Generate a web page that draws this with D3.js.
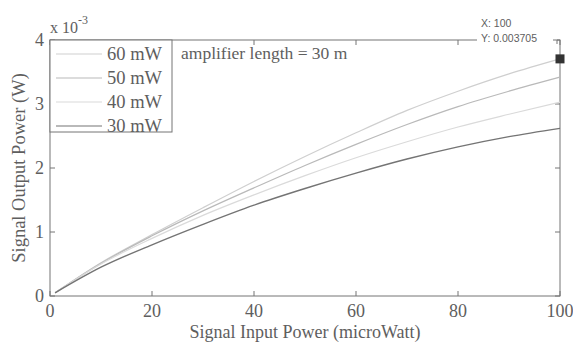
<!DOCTYPE html>
<html>
<head>
<meta charset="utf-8">
<script src="https://cdn.jsdelivr.net/npm/d3@7"></script>
<style>
  body { margin: 0; background: #fff; }
  svg { display: block; }
  text { font-family: "Liberation Serif", "DejaVu Serif", serif; fill: #5e5e5e; }
</style>
</head>
<body>
<svg id="chart" width="573" height="343"></svg>
<script>
// input power (microWatt)
var inputPower = [1, 10, 20, 30, 40, 50, 60, 70, 80, 90, 100]

// output power (W) for each pump power
var out60 = [0.05e-3, 0.52e-3, 0.96e-3, 1.38e-3, 1.79e-3, 2.18e-3, 2.55e-3, 2.90e-3, 3.20e-3, 3.47e-3, 3.705e-3]
var out50 = [0.05e-3, 0.51e-3, 0.94e-3, 1.33e-3, 1.69e-3, 2.04e-3, 2.37e-3, 2.68e-3, 2.96e-3, 3.20e-3, 3.42e-3]
var out40 = [0.05e-3, 0.50e-3, 0.90e-3, 1.26e-3, 1.58e-3, 1.88e-3, 2.16e-3, 2.41e-3, 2.64e-3, 2.84e-3, 3.03e-3]
var out30 = [0.05e-3, 0.45e-3, 0.80e-3, 1.12e-3, 1.42e-3, 1.68e-3, 1.92e-3, 2.14e-3, 2.33e-3, 2.49e-3, 2.62e-3]

var seriesNames = ['60 mW', '50 mW', '40 mW', '30 mW']
var seriesValues = [out60, out50, out40, out30]
var seriesColors = ['#cfcfcf', '#b9b9b9', '#dadada', '#747474']

var xTicks = [0, 20, 40, 60, 80, 100]
var yTicks = [0, 0.001, 0.002, 0.003, 0.004]

var tipX = 100, tipY = 0.003705

var svg = d3.select('#chart')
var margin = {left: 50, right: 13, top: 40, bottom: 47}
var width = 573 - margin.left - margin.right,
    height = 343 - margin.top - margin.bottom

var x = d3.scaleLinear().domain([0, 100]).range([margin.left, margin.left + width])
var y = d3.scaleLinear().domain([0, 0.004]).range([margin.top + height, margin.top])

var axisColor = '#747474'
var tickLen = 5

// box
svg.append('rect')
  .attr('x', x(0)).attr('y', y(0.004))
  .attr('width', width).attr('height', height)
  .attr('fill', 'none').attr('stroke', axisColor).attr('stroke-width', 1)

// inward ticks on all four sides
var g = svg.append('g').attr('stroke', axisColor).attr('stroke-width', 1)
xTicks.forEach(function (t) {
  g.append('line').attr('x1', x(t)).attr('x2', x(t)).attr('y1', y(0)).attr('y2', y(0) - tickLen)
  g.append('line').attr('x1', x(t)).attr('x2', x(t)).attr('y1', y(0.004)).attr('y2', y(0.004) + tickLen)
})
yTicks.forEach(function (t) {
  g.append('line').attr('x1', x(0)).attr('x2', x(0) + tickLen).attr('y1', y(t)).attr('y2', y(t))
  g.append('line').attr('x1', x(100)).attr('x2', x(100) - tickLen).attr('y1', y(t)).attr('y2', y(t))
})

// tick labels
svg.append('g').selectAll('text').data(xTicks).enter().append('text')
  .attr('x', function (d) { return x(d) }).attr('y', y(0) + 21)
  .attr('text-anchor', 'middle').attr('font-size', 18)
  .text(function (d) { return d })

svg.append('g').selectAll('text').data(yTicks).enter().append('text')
  .attr('x', x(0) - 6).attr('y', function (d) { return y(d) + 6 })
  .attr('text-anchor', 'end').attr('font-size', 18)
  .text(function (d) { return Math.round(d * 1000) })

// exponent
var ex = svg.append('text').attr('x', x(0)).attr('y', y(0.004) - 7).attr('font-size', 16)
ex.append('tspan').text('x 10')
ex.append('tspan').attr('dy', -9).attr('font-size', 12).text('-3')

// axis labels
svg.append('text')
  .attr('x', x(50)).attr('y', 338)
  .attr('text-anchor', 'middle').attr('font-size', 18)
  .text('Signal Input Power (microWatt)')

svg.append('text')
  .attr('transform', 'translate(25,' + y(0.002) + ') rotate(-90)')
  .attr('text-anchor', 'middle').attr('font-size', 18.5)
  .text('Signal Output Power (W)')

// curves
var line = d3.line()
  .x(function (d) { return x(d[0]) })
  .y(function (d) { return y(d[1]) })
  .curve(d3.curveMonotoneX)

seriesValues.forEach(function (vals, i) {
  svg.append('path')
    .datum(inputPower.map(function (p, j) { return [p, vals[j]] }))
    .attr('d', line)
    .attr('fill', 'none')
    .attr('stroke', seriesColors[i])
    .attr('stroke-width', i === 3 ? 1.4 : 1.2)
})

// legend
var lg = svg.append('g')
lg.append('rect')
  .attr('x', x(0)).attr('y', y(0.004))
  .attr('width', 122).attr('height', 92)
  .attr('fill', '#fff').attr('stroke', axisColor)
seriesNames.forEach(function (name, i) {
  var ly = y(0.004) + 14 + i * 24
  lg.append('line')
    .attr('x1', x(0) + 6).attr('x2', x(0) + 52)
    .attr('y1', ly).attr('y2', ly)
    .attr('stroke', seriesColors[i]).attr('stroke-width', 1.2)
  lg.append('text')
    .attr('x', x(0) + 57).attr('y', ly + 6)
    .attr('font-size', 18.5)
    .text(name)
})

svg.append('text')
  .attr('x', 181).attr('y', 59)
  .attr('font-size', 17.5)
  .text('amplifier length = 30 m')

// data tip
svg.append('rect')
  .attr('x', 477).attr('y', 14).attr('width', 80).attr('height', 30)
  .attr('fill', '#fff')
svg.append('path')
  .attr('d', 'M553,40 L557,40 L557,44')
  .attr('fill', 'none').attr('stroke', axisColor)
svg.append('text')
  .attr('x', 481).attr('y', 27)
  .style('font-family', '"Liberation Sans", Arial, sans-serif')
  .attr('font-size', 10.5)
  .text('X: ' + tipX)
svg.append('text')
  .attr('x', 481).attr('y', 42)
  .style('font-family', '"Liberation Sans", Arial, sans-serif')
  .attr('font-size', 10.5)
  .text('Y: ' + tipY)
svg.append('rect')
  .attr('x', x(tipX) - 4.5).attr('y', y(tipY) - 4.5)
  .attr('width', 9).attr('height', 9)
  .attr('fill', '#333')
</script>
</body>
</html>
